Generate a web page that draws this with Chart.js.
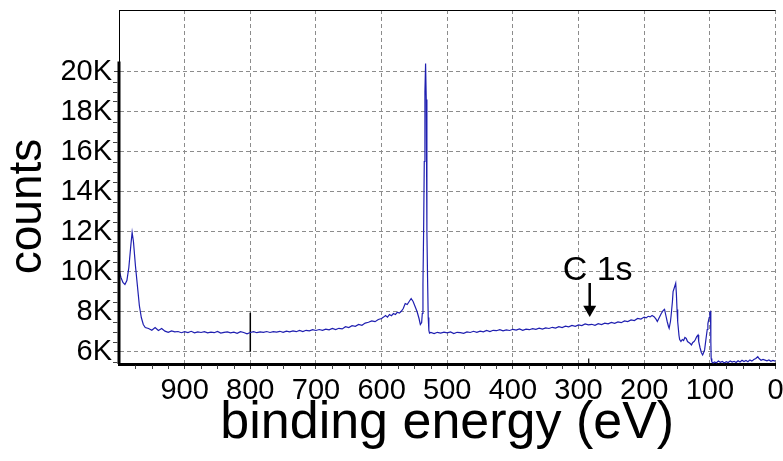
<!DOCTYPE html>
<html>
<head>
<meta charset="utf-8">
<script src="https://cdn.jsdelivr.net/npm/chart.js@4.4.1/dist/chart.umd.min.js"></script>
<style>
html, body { margin: 0; padding: 0; background: #ffffff; }
canvas { display: block; }
</style>
</head>
<body>
<canvas id="c" width="783" height="461"></canvas>
<script>
// ---- data (binding energy in eV, counts) ----
const bindingEnergy = [
  1000,997,994,991,988,985,982,980,978,975,972,969,966,963,960,
  955,950,945,940,935,930,925,920,915,910,
  905,900,895,890,885,880,875,870,865,860,
  855,850,845,840,835,830,825,820,815,810,
  805,800,795,790,785,780,775,770,765,760,
  755,750,745,740,735,730,725,720,715,710,
  705,700,695,690,685,680,675,670,665,660,
  655,650,645,640,635,630,625,620,615,610,
  605,
  600,597,594,591,588,585,582,579,576,573,
  570,567,564,561,558,555,552,549,546,543,
  541,
  539,538,537,536,535,534,533,532,531,530,
  529,528,527,
  525,520,515,510,505,500,495,490,485,480,
  475,470,465,460,455,450,445,440,435,430,
  425,420,415,410,405,400,395,390,385,380,
  375,370,365,360,355,350,345,340,335,330,
  325,320,315,310,305,300,295,290,285,280,
  275,270,265,260,255,250,245,240,235,230,
  225,220,215,210,205,200,
  197,194,191,188,185,182,180,177,174,171,
  169,167,165,163,162,160,159,157,156,154,
  152,151,150,149,147,146,144,142,140,138,
  136,134,132,130,128,126,124,122,120,118,
  117,115,113,111,110,108,106,104,103,101,
  100,99,98.5,98,97,95,
  93,90,87,84,81,78,75,72,69,66,
  63,60,57,54,51,48,45,42,39,36,
  33,30,27,25,22,19,16,13,10,7,
  4,1,0
];
const counts = [
  10100,9700,9450,9350,9550,10200,11300,11950,11500,10300,9300,8300,7700,7350,7200,
  7150,7060,7200,7050,7150,7020,6960,7030,6980,7000,
  6940,6990,6950,7010,6930,6980,6950,6990,6930,6970,
  6940,7000,6920,6960,6980,6930,6970,6910,6990,6950,
  6880,6950,6990,6940,6980,6960,7000,6950,6990,6970,
  7010,6960,7020,6980,7030,6990,7050,7000,7060,7030,
  7090,7050,7100,7060,7120,7080,7150,7100,7160,7130,
  7240,7200,7290,7260,7350,7310,7420,7460,7530,7490,
  7600,
  7650,7720,7800,7720,7850,7790,7900,7850,7960,7920,
  8010,8150,8400,8350,8500,8650,8500,8250,8000,7650,
  7350,
  7450,7900,9400,12000,15500,19000,20400,18600,12000,9700,
  7700,7050,6920,
  6950,6900,6960,6920,6970,6930,6980,6900,6960,6940,
  6910,6980,6950,7010,6960,7020,6980,7050,7000,7060,
  7040,7090,7030,7080,7050,7110,7070,7130,7060,7120,
  7090,7140,7110,7170,7120,7180,7150,7210,7170,7240,
  7200,7270,7230,7300,7260,7330,7300,7380,7330,7360,
  7310,7390,7350,7420,7380,7450,7410,7480,7440,7530,
  7500,7580,7550,7650,7620,7720,
  7680,7760,7730,7800,7740,7620,7500,7700,7900,8050,
  8110,7800,7500,7250,7160,7500,7800,8500,9000,9200,
  9410,8900,8100,7500,6800,6600,6500,6600,6550,6700,
  6650,6500,6450,6400,6330,6450,6500,6600,6750,6830,
  6500,6200,5950,5830,5900,6080,6600,7100,7400,7700,
  7950,7990,6500,5650,5480,5430,
  5480,5440,5520,5460,5500,5430,5490,5450,5530,5470,
  5510,5450,5540,5480,5560,5500,5550,5490,5580,5520,
  5600,5650,5740,5650,5560,5600,5570,5530,5580,5510,
  5550,5520,5560
];

// axis tick values / labels
const xTickValues = [900, 800, 700, 600, 500, 400, 300, 200, 100, 0];
const yTickValues = [6000, 8000, 10000, 12000, 14000, 16000, 18000, 20000];
const yTickSuffix = 'K';

// axis ranges
const xRange = [0, 1000];
const yRange = [5375, 23075];
const yThickAxisTop = 20500;

// annotation marks
const marker800Energy = [800, 800];
const marker800Counts = [5990, 7940];
const c1sTickEnergy = [284.5, 284.5];
const c1sTickCounts = [5375, 5650];
const arrowEnergy = [283, 283];
const arrowCounts = [9425, 8100];
const c1sLabel = 'C 1s';
const c1sLabelEnergy = 271;
const c1sLabelCounts = 9575;

const xTitle = 'binding energy (eV)';
const yTitle = 'counts';

// ---- chart ----
const FONT = "'Liberation Sans', Arial, Helvetica, sans-serif";
Chart.defaults.font.family = FONT;
Chart.defaults.color = '#000';

const pairs = (xs, ys) => xs.map((v, i) => ({ x: v, y: ys[i] }));

const extras = {
  id: 'extras',
  afterDraw(chart) {
    const { ctx, chartArea: a, scales: { x, y } } = chart;
    ctx.save();
    // top frame line
    ctx.strokeStyle = '#000';
    ctx.lineWidth = 1;
    ctx.beginPath();
    ctx.moveTo(a.left, a.top + 0.5);
    ctx.lineTo(a.right, a.top + 0.5);
    ctx.stroke();
    // thick part of the left axis
    ctx.lineWidth = 3;
    ctx.beginPath();
    ctx.moveTo(a.left, y.getPixelForValue(yThickAxisTop));
    ctx.lineTo(a.left, a.bottom);
    ctx.stroke();
    // minor ticks
    ctx.lineWidth = 1;
    ctx.strokeStyle = '#444';
    ctx.beginPath();
    for (let v = 25; v < 1000; v += 25) {
      if (v % 100 === 0) continue;
      const px = Math.round(x.getPixelForValue(v)) + 0.5;
      ctx.moveTo(px, a.bottom + 1.5);
      ctx.lineTo(px, a.bottom + 5);
    }
    for (let v = 5500; v <= 20000; v += 500) {
      if (v % 2000 === 0) continue;
      const py = Math.round(y.getPixelForValue(v)) + 0.5;
      ctx.moveTo(a.left - 1.5, py);
      ctx.lineTo(a.left - 6, py);
    }
    ctx.stroke();
    // y title
    ctx.fillStyle = '#000';
    ctx.font = '46px ' + FONT;
    ctx.textAlign = 'center';
    ctx.textBaseline = 'middle';
    ctx.translate(28, 206.5);
    ctx.rotate(-Math.PI / 2);
    ctx.fillText(yTitle, 0, 0);
    ctx.restore();
    // C 1s label
    ctx.save();
    ctx.fillStyle = '#000';
    ctx.font = '34px ' + FONT;
    ctx.textAlign = 'center';
    ctx.textBaseline = 'alphabetic';
    ctx.fillText(c1sLabel, x.getPixelForValue(c1sLabelEnergy), y.getPixelForValue(c1sLabelCounts));
    ctx.restore();
  }
};

new Chart(document.getElementById('c'), {
  type: 'line',
  data: {
    datasets: [
      {
        label: 'spectrum',
        data: pairs(bindingEnergy, counts),
        borderColor: '#1f1fb0',
        borderWidth: 1.2,
        pointRadius: 0,
        tension: 0
      },
      {
        label: 'marker 800',
        data: pairs(marker800Energy, marker800Counts),
        borderColor: '#000',
        borderWidth: 1.5,
        pointRadius: 0
      },
      {
        label: 'C 1s tick',
        data: pairs(c1sTickEnergy, c1sTickCounts),
        borderColor: '#000',
        borderWidth: 1.2,
        pointRadius: 0
      },
      {
        label: 'C 1s arrow',
        data: pairs(arrowEnergy, arrowCounts),
        borderColor: '#000',
        borderWidth: 2.5,
        pointRadius: [0, 7.5],
        pointStyle: 'triangle',
        pointRotation: 180,
        pointBackgroundColor: '#000',
        pointBorderColor: '#000',
        pointBorderWidth: 0
      }
    ]
  },
  options: {
    responsive: false,
    animation: false,
    devicePixelRatio: 1,
    events: [],
    layout: { padding: { top: 10, right: 7, left: 0, bottom: 0 } },
    plugins: { legend: { display: false }, tooltip: { enabled: false } },
    scales: {
      x: {
        type: 'linear',
        min: xRange[0],
        max: xRange[1],
        reverse: true,
        position: 'bottom',
        afterBuildTicks: s => { s.ticks = xTickValues.map(v => ({ value: v })); },
        afterFit: s => { s.height = 97; s.paddingLeft = 0; s.paddingRight = 0; },
        ticks: { font: { size: 29 }, color: '#000', padding: 5, maxRotation: 0, minRotation: 0, autoSkip: false },
        grid: { color: '#8c8c8c', lineWidth: 1, tickLength: 5, tickColor: '#444', tickWidth: 1, tickBorderDash: [] },
        border: { display: true, color: '#000', width: 3, dash: [4, 3] },
        title: { display: true, text: xTitle, font: { size: 52 }, color: '#000', padding: { top: 0, bottom: 6 } }
      },
      y: {
        type: 'linear',
        min: yRange[0],
        max: yRange[1],
        position: 'left',
        afterBuildTicks: s => { s.ticks = yTickValues.map(v => ({ value: v })); },
        afterFit: s => { s.width = 119; s.paddingTop = 0; s.paddingBottom = 0; },
        ticks: { font: { size: 29 }, color: '#000', padding: 2, callback: v => (v / 1000) + yTickSuffix },
        grid: { color: '#8c8c8c', lineWidth: 1, tickLength: 5, tickColor: '#444', tickWidth: 1, tickBorderDash: [] },
        border: { display: true, color: '#000', width: 1, dash: [4, 3] },
        title: { display: false }
      }
    }
  },
  plugins: [extras]
});
</script>
</body>
</html>
